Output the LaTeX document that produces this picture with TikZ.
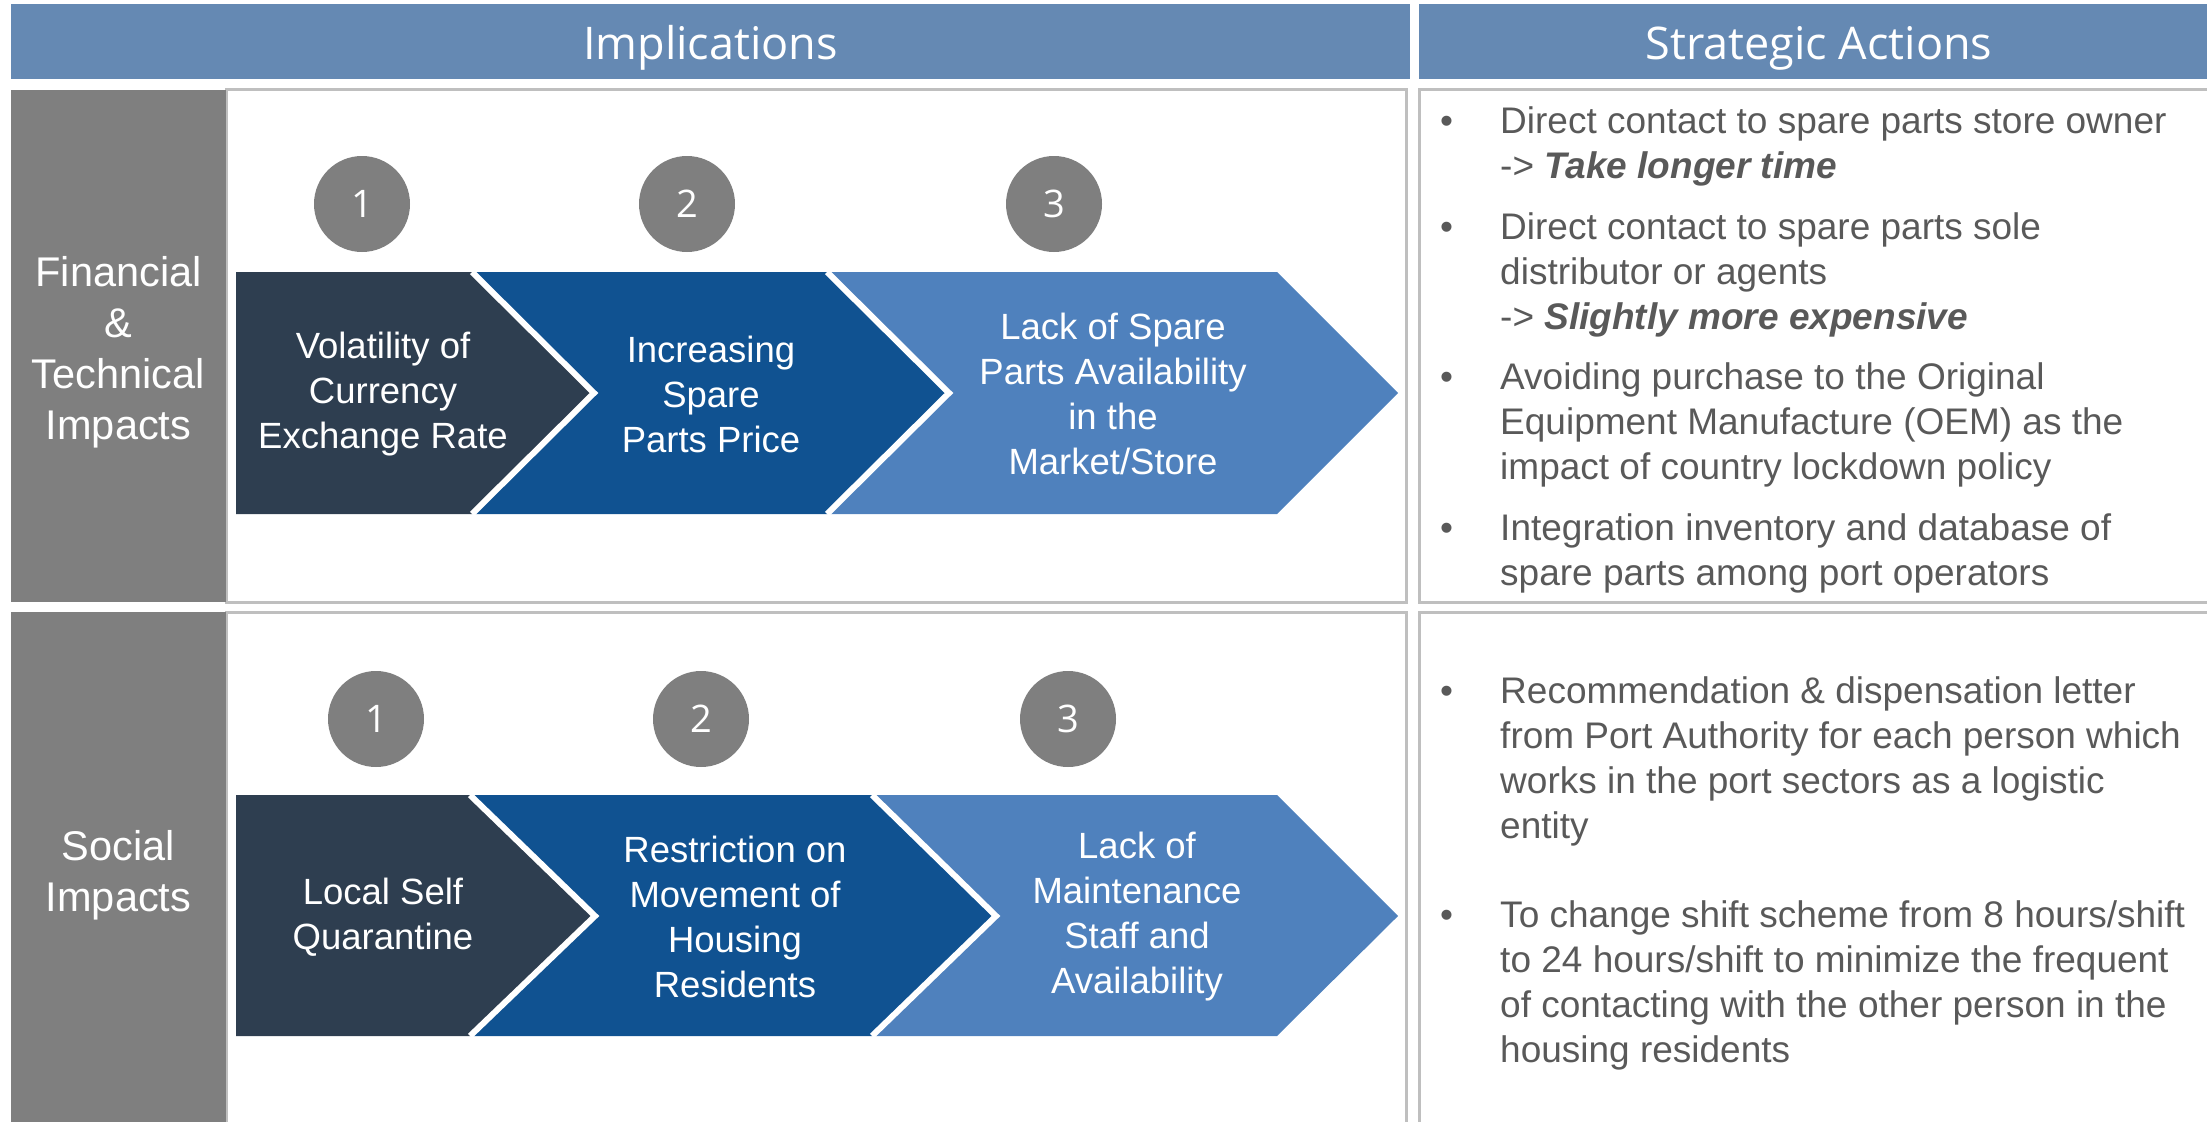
\documentclass[tikz,border=0pt]{standalone}
\usepackage{fontspec}
\setmainfont{Liberation Sans}
\newfontfamily\headfont{Open Sans}
\definecolor{headblue}{RGB}{101,137,179}
\definecolor{sidegray}{RGB}{127,127,127}
\definecolor{linegray}{RGB}{191,191,191}
\definecolor{darkslate}{RGB}{46,62,80}
\definecolor{midblue}{RGB}{16,82,145}
\definecolor{lightblue}{RGB}{79,129,189}
\definecolor{textgray}{RGB}{89,89,89}

\begin{document}
\begin{tikzpicture}[x=1pt, y=-1pt,
    header/.style={fill=headblue, text=white, minimum height=75, inner sep=0, text height=36, text depth=0, font=\headfont\fontsize{45}{52}\selectfont},
    side/.style={fill=sidegray, text=white, minimum width=215, inner sep=0, align=center, font=\fontsize{41.5}{51}\selectfont},
    boxline/.style={draw=linegray, line width=3},
    num/.style={circle, fill=sidegray, text=white, minimum size=96, inner sep=0, font=\headfont\fontsize{38}{44}\selectfont},
    chevtext/.style={text=white, align=center, inner sep=0, font=\fontsize{36.5}{45}\selectfont},
    act/.style={anchor=base west, align=left, inner sep=0, text=textgray, font=\fontsize{37}{45}\selectfont},
    dot/.style={anchor=base west, inner sep=0, text=textgray, font=\fontsize{37}{45}\selectfont}]
  \useasboundingbox (0,0) rectangle (2207,1121);

  % headers
  \node[header, minimum width=1399] (impl) at (710.5,41.5) {Implications};
  \node[header, minimum width=800] (strat) at (1819,41.5) {Strategic Actions};

  % frames
  \draw[boxline] (226,90) rectangle (1406,602);
  \draw[boxline] (226,612) rectangle (1406,1140);
  \draw[boxline] (1419,90) rectangle (2220,602);
  \draw[boxline] (1419,612) rectangle (2220,1140);

  \node[side, minimum height=512] (fin) at (118.5,346) {};
  \node[side] (fintext) at (118.5,352) {Financial\\\&\\Technical\\Impacts};
  \node[side, minimum height=528] (soc) at (118.5,876) {};
  \node[side] (soctext) at (118.5,875) {Social\\Impacts};

  % row 1 chevrons
  \fill[darkslate] (236,272) -- (472,272) -- (594,393) -- (472,514) -- (236,514) -- cycle;
  \fill[midblue] (472,272) -- (827,272) -- (949,393) -- (827,514) -- (472,514) -- (594,393) -- cycle;
  \fill[lightblue] (827,272) -- (1277,272) -- (1398,393) -- (1277,514) -- (827,514) -- (949,393) -- cycle;
  \draw[white, line width=6] (472,272) -- (594,393) -- (472,514);
  \draw[white, line width=6] (827,272) -- (949,393) -- (827,514);

  % row 2 chevrons
  \fill[darkslate] (236,795) -- (470,795) -- (595,916) -- (470,1036) -- (236,1036) -- cycle;
  \fill[midblue] (470,795) -- (872,795) -- (996,916) -- (872,1036) -- (470,1036) -- (595,916) -- cycle;
  \fill[lightblue] (872,795) -- (1277,795) -- (1398,916) -- (1277,1036) -- (872,1036) -- (996,916) -- cycle;
  \draw[white, line width=6] (470,795) -- (595,916) -- (470,1036);
  \draw[white, line width=6] (872,795) -- (996,916) -- (872,1036);

  \node[num] (f1) at (362,204) {1};
  \node[num] (f2) at (687,204) {2};
  \node[num] (f3) at (1054,204) {3};
  \node[num] (s1) at (376,719) {1};
  \node[num] (s2) at (701,719) {2};
  \node[num] (s3) at (1068,719) {3};

  \node[chevtext] (fa) at (383,394) {Volatility of\\Currency\\Exchange Rate};
  \node[chevtext] (fb) at (711,394) {Increasing\\Spare\\Parts Price};
  \node[chevtext] (fc) at (1113,394) {Lack of Spare\\Parts Availability\\in the\\Market/Store};
  \node[chevtext] (sa) at (383,917) {Local Self\\Quarantine};
  \node[chevtext] (sb) at (735,917) {Restriction on\\Movement of\\Housing\\Residents};
  \node[chevtext] (sc) at (1137,917) {Lack of\\Maintenance\\Staff and\\Availability};

  % strategic actions (base = last line)
  \foreach \y in {133,239,389,540,703,927}
    \node[dot] (b\y) at (1440,\y) {•};
  \node[act] (a1) at (1500,178) {Direct contact to spare parts store owner\\-> \textbf{\textit{Take longer time}}};
  \node[act] (a2) at (1500,329) {Direct contact to spare parts sole\\distributor or agents\\-> \textbf{\textit{Slightly more expensive}}};
  \node[act] (a3) at (1500,479) {Avoiding purchase to the Original\\Equipment Manufacture (OEM) as the\\impact of country lockdown policy};
  \node[act] (a4) at (1500,585) {Integration inventory and database of\\spare parts among port operators};
  \node[act] (a5) at (1500,838) {Recommendation \& dispensation letter\\from Port Authority for each person which\\works in the port sectors as a logistic\\entity};
  \node[act] (a6) at (1500,1062) {To change shift scheme from 8 hours/shift\\to 24 hours/shift to minimize the frequent\\of contacting with the other person in the\\housing residents};
\end{tikzpicture}
\end{document}
